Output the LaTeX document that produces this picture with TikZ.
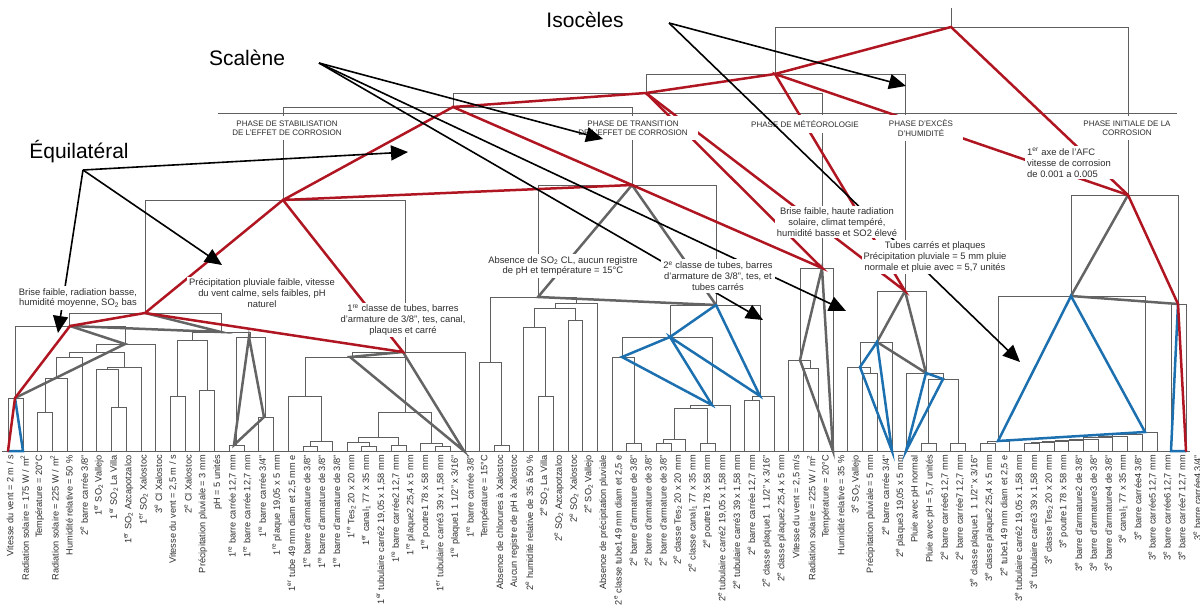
\documentclass[tikz,border=0pt]{standalone}
\usepackage{fontspec}
\setmainfont{Liberation Sans}
\usetikzlibrary{arrows.meta}
\definecolor{myred}{RGB}{176,22,34}
\definecolor{myblue}{RGB}{28,112,175}
\definecolor{mygray}{RGB}{100,100,100}
\definecolor{dengray}{RGB}{95,95,95}
\definecolor{txt}{RGB}{45,45,45}
\newcommand\lsup[1]{\textsuperscript{#1}}
\newcommand\lsub[1]{\textsubscript{#1}}
\newcommand\mg[5]{\draw[den] (#1,#2) -- (#1,#5) -- (#3,#5) -- (#3,#4);}
\tikzset{
  den/.style={draw=dengray, line width=0.8pt},
  redl/.style={draw=myred, line width=2.5pt, line cap=round},
  bluel/.style={draw=myblue, line width=2.5pt, line cap=round},
  grayl/.style={draw=mygray, line width=2.5pt, line cap=round},
  arr/.style={draw=black, line width=1.6pt, -{Triangle[length=17pt,width=15pt]}},
  leaf/.style={font=\fontsize{9.2}{10}\selectfont, text=txt, rotate=90, anchor=east, inner sep=0pt},
  phase/.style={font=\fontsize{8}{9.2}\selectfont, text=txt, fill=white, align=center, inner xsep=10pt, inner ysep=5pt},
  desc/.style={font=\fontsize{9.4}{10.8}\selectfont, text=txt, fill=white, align=center, inner sep=2pt},
  big/.style={font=\fontsize{21}{24}\selectfont, text=black}
}
\begin{document}
\begin{tikzpicture}[x=1pt,y=-1pt]
\useasboundingbox (0,0) rectangle (1200,608);
% ---------- thin dendrogram ----------
\draw[den] (2,451) -- (1190,451);
\draw[den] (218,113) -- (1177,113);
% section A
\mg{8}{451}{23}{451}{398}
\mg{37}{451}{52}{451}{412}
\mg{45}{412}{67}{451}{378}
\mg{56}{378}{82}{451}{357}
\mg{111}{451}{126}{451}{407}
\mg{96}{451}{118}{407}{369}
\mg{107}{369}{141}{451}{367}
\mg{69}{357}{124}{367}{352}
\mg{96}{352}{155}{451}{344}
\mg{15}{398}{125}{344}{326}
\mg{170}{451}{185}{451}{396}
\mg{199}{451}{214}{451}{390}
\mg{177}{396}{207}{390}{340}
\mg{229}{451}{244}{451}{445}
\mg{258}{451}{273}{451}{417}
\mg{236}{445}{265}{417}{337}
\mg{192}{340}{250}{337}{332}
\mg{69}{326}{221}{332}{313}
% section B
\mg{303}{451}{317}{451}{446}
\mg{310}{446}{332}{451}{441}
\mg{288}{451}{321}{441}{396}
\mg{361}{451}{376}{451}{446}
\mg{347}{451}{369}{446}{442}
\mg{391}{451}{406}{451}{445}
\mg{358}{442}{398}{445}{437}
\mg{435}{451}{450}{451}{446}
\mg{420}{451}{442}{446}{443}
\mg{378}{437}{431}{443}{412}
\mg{305}{396}{405}{412}{357}
\mg{352}{357}{465}{451}{352}
\mg{145}{313}{405}{352}{200}
% section C
\mg{494}{451}{509}{451}{445}
\mg{479}{451}{501}{445}{362}
\mg{538}{451}{553}{451}{396}
\mg{523}{451}{545}{396}{327}
\mg{568}{451}{582}{451}{320}
\mg{534}{327}{575}{320}{308}
\mg{555}{308}{597}{451}{303}
\mg{490}{362}{576}{303}{297}
% section D
\mg{626}{451}{641}{451}{443}
\mg{612}{451}{634}{443}{357}
\mg{656}{451}{671}{451}{443}
\mg{663}{443}{685}{451}{439}
\mg{700}{451}{715}{451}{443}
\mg{674}{439}{707}{443}{408}
\mg{690}{408}{730}{451}{405}
\mg{622}{357}{712}{405}{337}
\mg{744}{451}{759}{451}{400}
\mg{752}{400}{774}{451}{396}
\mg{670}{337}{760}{396}{305}
\mg{538}{297}{716}{305}{185}
% section E
\mg{803}{451}{818}{451}{368}
\mg{788}{451}{810}{368}{360}
\mg{800}{360}{833}{451}{268}
% section F
\mg{862}{451}{877}{451}{373}
\mg{847}{451}{870}{373}{367}
\mg{860}{367}{892}{451}{342}
\mg{921}{451}{936}{451}{443}
\mg{950}{451}{965}{451}{443}
\mg{928}{443}{958}{443}{379}
\mg{906}{451}{943}{379}{373}
\mg{877}{342}{926}{373}{291}
% section G
\mg{980}{451}{995}{451}{443}
\mg{987}{443}{1009}{451}{441}
\mg{1024}{451}{1039}{451}{443}
\mg{1031}{443}{1054}{451}{442}
\mg{1042}{442}{1068}{451}{441}
\mg{1055}{441}{1083}{451}{440}
\mg{1069}{440}{1098}{451}{439}
\mg{1083}{439}{1112}{451}{437}
\mg{1098}{437}{1127}{451}{436}
\mg{1112}{436}{1142}{451}{434}
\mg{1127}{434}{1157}{451}{432}
\mg{998}{441}{1145}{432}{296}
\mg{1171}{451}{1186}{451}{304}
\mg{1071}{296}{1178}{304}{195}
% upper levels
\mg{283}{200}{632}{185}{107}
\mg{453}{107}{822}{268}{93}
\mg{646}{93}{905}{291}{74}
\mg{775}{74}{1128}{195}{27}
\draw[den] (951,27) -- (951,8);
% ---------- vertices ----------
\coordinate (R1) at (15,398);  \coordinate (R2) at (70,326);
\coordinate (R3) at (145,313); \coordinate (R4) at (283,200);
\coordinate (R5) at (403,352); \coordinate (N1) at (453,107);
\coordinate (N2) at (632,185); \coordinate (N3) at (646,93);
\coordinate (N4) at (775,74);  \coordinate (RT) at (951,27);
\coordinate (G0) at (1128,195);\coordinate (E0) at (822,268);
\coordinate (F0) at (905,291); \coordinate (GR) at (1178,304);
\coordinate (L1b) at (8,451);  \coordinate (L2b) at (23,451);
\coordinate (G1) at (125,344); \coordinate (G2) at (221,332);
\coordinate (A1) at (249,337); \coordinate (A2) at (234,445); \coordinate (A3) at (264,417);
\coordinate (B1) at (350,357); \coordinate (B2) at (464,451);
\coordinate (C0) at (538,297);
\coordinate (D0) at (716,305); \coordinate (D1) at (670,337); \coordinate (D2) at (622,357);
\coordinate (D3) at (712,405); \coordinate (D4) at (760,396);
\coordinate (E1) at (800,360); \coordinate (E2) at (833,451);
\coordinate (F1) at (877,342); \coordinate (F2) at (860,367); \coordinate (F3) at (892,451);
\coordinate (F4) at (926,373); \coordinate (F5) at (906,451); \coordinate (F6) at (943,379);
\coordinate (H0) at (1071,296); \coordinate (H1) at (998,441); \coordinate (H2) at (1145,432);
\coordinate (K1) at (1171,451); \coordinate (K2) at (1186,451);
% ---------- gray triangles ----------
\draw[grayl] (R2) -- (G1) -- (R1);
\draw[grayl] (R3) -- (G2) -- (R2);
\draw[grayl] (A1) -- (A2) -- (A3) -- cycle;
\draw[grayl] (R5) -- (B1) -- (B2) -- cycle;
\draw[grayl] (N2) -- (C0) -- (D0) -- cycle;
\draw[grayl] (E0) -- (E1) -- (E2) -- cycle;
\draw[grayl] (F0) -- (F1) -- (F4) -- cycle;
\draw[grayl] (G0) -- (H0) -- (GR);
% ---------- blue triangles ----------
\draw[bluel] (R1) -- (L2b) -- (L1b);
\draw[bluel] (D0) -- (D1) -- (D2) -- (D3) -- (D1) -- (D4) -- (D0);
\draw[bluel] (F1) -- (F2) -- (F3) -- cycle;
\draw[bluel] (F4) -- (F5) -- (F6) -- cycle;
\draw[bluel] (H0) -- (H1) -- (H2) -- cycle;
\draw[bluel] (GR) -- (K1) -- (K2);
% ---------- red network ----------
\draw[redl] (L1b) -- (R1) -- (R2) -- (R3) -- (R4) -- (R5) -- (R3);
\draw[redl] (R4) -- (N1) -- (N2) -- (R4);
\draw[redl] (N1) -- (N3) -- (N4) -- (RT) -- (G0) -- (GR) -- (K2);
\draw[redl] (N3) -- (E0) -- (N2);
\draw[redl] (N3) -- (F0) -- (N4) -- (G0);
% ---------- phase labels ----------
\node[phase] (p1) at (287,128) {PHASE DE STABILISATION\\DE L'EFFET DE CORROSION};
\node[phase] (p2) at (633,128) {PHASE DE TRANSITION\\DE L'EFFET DE CORROSION};
\node[phase] (p3) at (805,124) {PHASE DE MÉTÉOROLOGIE};
\node[phase] (p4) at (921,128) {PHASE D'EXCÈS\\D'HUMIDITÉ};
\node[phase] (p5) at (1127,128) {PHASE INITIALE DE LA\\CORROSION};
% ---------- big words and arrows ----------
\node[big] (iso) at (585,20) {Isocèles};
\node[big] (sca) at (247,58) {Scalène};
\node[big] (equ) at (79,152) {Équilatéral};
\coordinate (isoT) at (669,23);
\coordinate (scaT) at (319,63);
\coordinate (equT) at (83,170);
\coordinate (isoH1) at (906,86);
\coordinate (isoH2) at (1020,362);
\coordinate (scaH1) at (603,139);
\coordinate (scaH2) at (763,320);
\coordinate (scaH3) at (846,311);
\coordinate (equH1) at (408,152);
\coordinate (equH2) at (222,265);
\coordinate (equH3) at (58,333);
\draw[arr] (isoT) -- (isoH1);
\draw[arr] (isoT) -- (isoH2);
\draw[arr] (scaT) -- (scaH1);
\draw[arr] (scaT) -- (scaH2);
\draw[arr] (scaT) -- (scaH3);
\draw[arr] (equT) -- (equH1);
\draw[arr] (equT) -- (equH2);
\draw[arr] (equT) -- (equH3);
% ---------- descriptive labels ----------
\node[desc] (t1) at (78,298) {Brise faible, radiation basse,\\humidité moyenne, SO\lsub{2} bas};
\node[desc] (t2) at (262,293) {Précipitation pluviale faible, vitesse\\du vent calme, sels faibles, pH\\naturel};
\node[desc] (t3) at (403,320) {1\lsup{re} classe de tubes, barres\\d'armature de 3/8'', tes, canal,\\plaques et carré};
\node[desc] (t4) at (563,266) {Absence de SO\lsub{2} CL, aucun registre\\de pH et température = 15°C};
\node[desc] (t5) at (718,276) {2\lsup{e} classe de tubes, barres\\d'armature de 3/8'', tes, et\\tubes carrés};
\node[desc] (t6) at (837,222) {Brise faible, haute radiation\\solaire, climat tempéré,\\humidité basse et SO2 élevé};
\node[desc] (t7) at (935,257) {Tubes carrés et plaques\\Précipitation pluviale = 5 mm pluie\\normale et pluie avec = 5,7 unités};
\node[desc, align=left, anchor=north west] (t8) at (1025,146) {1\lsup{er} axe de l'AFC\\vitesse de corrosion\\de 0.001 a 0.005};
% ---------- leaf labels ----------
\foreach \t [count=\i] in {
{Vitesse du vent = 2 m / s},
{Radiation solaire = 175 W / m\lsup{2}},
{Température = 20°C},
{Radiation solaire = 225 W / m\lsup{2}},
{Humidité relative = 50 \%},
{2\lsup{e} barre carrée 3/8"},
{1\lsup{er} SO\lsub{2} Vallejo},
{1\lsup{er} SO\lsub{2} La Villa},
{1\lsup{er} SO\lsub{2} Azcapotzalco},
{1\lsup{er} SO\lsub{2} Xalostoc},
{3\lsup{e} Cl Xalostoc},
{Vitesse du vent = 2,5 m / s},
{2\lsup{e} Cl Xalostoc},
{Précipitation pluviale = 3 mm},
{pH = 5 unités},
{1\lsup{re} barre carrée 12,7 mm},
{1\lsup{re} barre carrée 12,7 mm},
{1\lsup{re} barre carrée 3/4"},
{1\lsup{re} plaque 19,05 x 5 mm},
{1\lsup{er} tube 49 mm diam et 2,5 mm e},
{1\lsup{re} barre d'armature de 3/8"},
{1\lsup{re} barre d'armature de 3/8"},
{1\lsup{re} barre d'armature de 3/8"},
{1\lsup{re} Tes\lsub{2} 20 x 20 mm},
{1\lsup{er} canal\lsub{1} 77 x 35 mm},
{1\lsup{er} tubulaire carré2 19,05 x 1,58 mm},
{1\lsup{re} barre carrée2 12,7 mm},
{1\lsup{re} plaque2 25,4 x 5 mm},
{1\lsup{re} poutre1 78 x 58 mm},
{1\lsup{er} tubulaire carré3 39 x 1,58 mm},
{1\lsup{re} plaque1 1 1/2" x 3/16"},
{1\lsup{re} barre carrée 3/8"},
{Température = 15°C},
{Absence de chlorures à Xalostoc},
{Aucun registre de pH à Xalostoc},
{2\lsup{e} humidité relative de 35 à 50 \%},
{2\lsup{e} SO\lsub{2} La Villa},
{2\lsup{e} SO\lsub{2} Azcapotzalco},
{2\lsup{e} SO\lsub{2} Xalostoc},
{2\lsup{e} SO\lsub{2} Vallejo},
{Absence de précipitation pluviale},
{2\lsup{e} classe tube1 49 mm diam et 2,5 e},
{2\lsup{e} barre d'armature de 3/8"},
{2\lsup{e} barre d'armature de 3/8"},
{2\lsup{e} barre d'armature de 3/8"},
{2\lsup{e} classe Tes\lsub{2} 20 x 20 mm},
{2\lsup{e} classe canal\lsub{1} 77 x 35 mm},
{2\lsup{e} poutre1 78 x 58 mm},
{2\lsup{e} tubulaire carré2 19,05 x 1,58 mm},
{2\lsup{e} tubulaire carré3 39 x 1,58 mm},
{2\lsup{e} barre carrée 12,7 mm},
{2\lsup{e} classe plaque1 \ 1 1/2" x 3/16"},
{2\lsup{e} classe plaque2 25,4 x 5 mm},
{Vitesse du vent = 2,5 m/s},
{Radiation solaire = 225 W / m\lsup{2}},
{Température = 20°C},
{Humidité relative = 35 \%},
{3\lsup{e} SO\lsub{2} Vallejo},
{Précipitation pluviale = 5 mm},
{2\lsup{e} barre carrée 3/4"},
{2\lsup{e} plaque3 19,05 x 5 mm},
{Pluie avec pH normal},
{Pluie avec pH = 5,7 unités},
{2\lsup{e} barre carrée6 12,7 mm},
{2\lsup{e} barre carrée7 12,7 mm},
{3\lsup{e} classe plaque1 \ 1 1/2" x 3/16"},
{3\lsup{e} classe plaque2 25,4 x 5 mm},
{2\lsup{e} tube1 49 mm diam et 2,5 e},
{3\lsup{e} tubulaire carré2 19,05 x 1,58 mm},
{3\lsup{e} tubulaire carré3 39 x 1,58 mm},
{3\lsup{e} classe Tes\lsub{2} 20 x 20 mm},
{3\lsup{e} poutre1 78 x 58 mm},
{3\lsup{e} barre d'armature2 de 3/8"},
{3\lsup{e} barre d'armature3 de 3/8"},
{3\lsup{e} barre d'armature4 de 3/8"},
{3\lsup{e} canal\lsub{1} 77 x 35 mm},
{3\lsup{e} barre carrée4 3/8"},
{3\lsup{e} barre carrée5 12,7 mm},
{3\lsup{e} barre carrée6 12,7 mm},
{3\lsup{e} barre carrée7 12,7 mm},
{3\lsup{e} barre carrée4 3/4"}}
{\node[leaf] (lf\i) at ({10+14.84*(\i-1)},455) {\t};}
\end{tikzpicture}
\end{document}
